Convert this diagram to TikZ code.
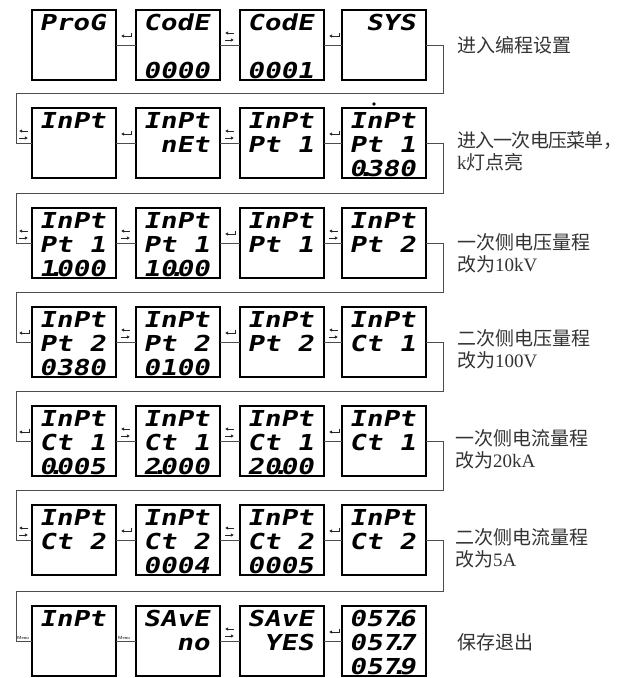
\documentclass[tikz,border=0pt]{standalone}
\usepackage{fontspec}
\setmainfont{Liberation Serif}
\newfontfamily\cjk{Noto Sans CJK SC}
\newfontfamily\segfam{DejaVu Sans Mono}[FakeStretch=1.25,FakeSlant=0.2]
\usetikzlibrary{arrows.meta}
\newcommand\segdot{\makebox[0pt]{.}}
\newcommand\segl[3]{\node[segtxt] (#1-#2) at ([shift={(7,{-4+24*#2})}]#1.north west) {#3};}
\newcommand\enterat[2]{\pic at ({#1+5},{#2-9}) {entericon};}
\newcommand\swapat[2]{\pic at ({#1+5},{#2-5}) {swapicon};}
\tikzset{
  box/.style={draw, line width=1.3pt, minimum width=84pt, minimum height=70pt, inner sep=0pt, outer sep=0pt, anchor=north west},
  conn/.style={line width=0.8pt, draw=black!70},
  segtxt/.style={anchor=base west, inner sep=0pt, font=\segfam\bfseries\fontsize{22}{22}\selectfont},
  lbl/.style={anchor=base west, inner sep=0pt, font=\fontsize{19}{22}\selectfont, text=black!80},
  menulbl/.style={anchor=south west, inner sep=0pt, font=\sffamily\bfseries\fontsize{4.5}{5}\selectfont, text=black!75},
  icon/.style={line width=0.8pt, draw=black!85, -{Latex[length=3.2pt,width=3.6pt]}},
  entericon/.pic={\draw[icon] (10,-3.5) -- (10,0) -- (0,0);},
  swapicon/.pic={\draw[icon] (9,-7) -- (0,-7); \draw[icon] (0,0) -- (9,0);}
}
\begin{document}
\begin{tikzpicture}[x=1pt,y=-1pt]
\useasboundingbox (0,0) rectangle (623,678);
% boxes
\foreach \rw/\ty in {1/10,2/108,3/208,4/307,5/406,6/505,7/606}{
  \node[box] (p\rw a) at (32,\ty) {};
  \node[box] (p\rw b) at (136,\ty) {};
  \node[box] (p\rw c) at (240,\ty) {};
  \node[box] (p\rw d) at (342,\ty) {};
  \draw[conn] (p\rw a.east) -- (p\rw b.west);
  \draw[conn] (p\rw b.east) -- (p\rw c.west);
  \draw[conn] (p\rw c.east) -- (p\rw d.west);
}
% loops
\foreach \rw/\nx/\ly in {1/2/93,2/3/193,3/4/292,4/5/391,5/6/490,6/7/591}{
  \coordinate (kr\rw) at (443,\ly);
  \coordinate (kl\rw) at (16,\ly);
  \draw[conn] (p\rw d.east) -| (kr\rw) -- (kl\rw) |- (p\nx a.west);
}
% row 1
\segl{p1a}{1}{ProG}
\segl{p1b}{1}{CodE}\segl{p1b}{3}{0000}
\segl{p1c}{1}{CodE}\segl{p1c}{3}{0001}
\segl{p1d}{1}{\hphantom{0}SYS}
% row 2
\segl{p2a}{1}{InPt}
\segl{p2b}{1}{InPt}\segl{p2b}{2}{\hphantom{0}nEt}
\segl{p2c}{1}{InPt}\segl{p2c}{2}{Pt\hphantom{0}1}
\segl{p2d}{1}{InPt}\segl{p2d}{2}{Pt\hphantom{0}1}\segl{p2d}{3}{0\segdot380}
\fill[black] (374,104) circle (1.8);
% row 3
\segl{p3a}{1}{InPt}\segl{p3a}{2}{Pt\hphantom{0}1}\segl{p3a}{3}{1\segdot000}
\segl{p3b}{1}{InPt}\segl{p3b}{2}{Pt\hphantom{0}1}\segl{p3b}{3}{10\segdot00}
\segl{p3c}{1}{InPt}\segl{p3c}{2}{Pt\hphantom{0}1}
\segl{p3d}{1}{InPt}\segl{p3d}{2}{Pt\hphantom{0}2}
% row 4
\segl{p4a}{1}{InPt}\segl{p4a}{2}{Pt\hphantom{0}2}\segl{p4a}{3}{0380}
\segl{p4b}{1}{InPt}\segl{p4b}{2}{Pt\hphantom{0}2}\segl{p4b}{3}{0100}
\segl{p4c}{1}{InPt}\segl{p4c}{2}{Pt\hphantom{0}2}
\segl{p4d}{1}{InPt}\segl{p4d}{2}{Ct\hphantom{0}1}
% row 5
\segl{p5a}{1}{InPt}\segl{p5a}{2}{Ct\hphantom{0}1}\segl{p5a}{3}{0\segdot005}
\segl{p5b}{1}{InPt}\segl{p5b}{2}{Ct\hphantom{0}1}\segl{p5b}{3}{2\segdot000}
\segl{p5c}{1}{InPt}\segl{p5c}{2}{Ct\hphantom{0}1}\segl{p5c}{3}{20\segdot00}
\segl{p5d}{1}{InPt}\segl{p5d}{2}{Ct\hphantom{0}1}
% row 6
\segl{p6a}{1}{InPt}\segl{p6a}{2}{Ct\hphantom{0}2}
\segl{p6b}{1}{InPt}\segl{p6b}{2}{Ct\hphantom{0}2}\segl{p6b}{3}{0004}
\segl{p6c}{1}{InPt}\segl{p6c}{2}{Ct\hphantom{0}2}\segl{p6c}{3}{0005}
\segl{p6d}{1}{InPt}\segl{p6d}{2}{Ct\hphantom{0}2}
% row 7
\segl{p7a}{1}{InPt}
\segl{p7b}{1}{SAvE}\segl{p7b}{2}{\hphantom{00}no}
\segl{p7c}{1}{SAvE}\segl{p7c}{2}{\hphantom{0}YES}
\segl{p7d}{1}{057\segdot6}\segl{p7d}{2}{057\segdot7}\segl{p7d}{3}{057\segdot9}
% icons
\enterat{116}{45}\swapat{220}{45}\enterat{324}{45}
\swapat{14}{143}\enterat{116}{143}\swapat{220}{143}\enterat{324}{143}
\swapat{14}{243}\swapat{116}{243}\enterat{220}{243}\swapat{324}{243}
\enterat{14}{342}\swapat{116}{342}\enterat{220}{342}\swapat{324}{342}
\enterat{14}{441}\swapat{116}{441}\swapat{220}{441}\enterat{324}{441}
\swapat{14}{540}\enterat{116}{540}\swapat{220}{540}\enterat{324}{540}
\node[menulbl] (m1) at (17,640) {Menu};
\node[menulbl] (m2) at (118,640) {Menu};
\swapat{220}{641}\enterat{324}{641}
% labels
\node[lbl] (t1) at (457,52) {\cjk 进入编程设置};
\node[lbl] (t2a) at (457,147) {\cjk\addfontfeature{LetterSpace=-4}进入一次电压菜单，};
\node[lbl] (t2b) at (457,169) {k{\cjk 灯点亮}};
\node[lbl] (t3a) at (457,249) {\cjk 一次侧电压量程};
\node[lbl] (t3b) at (457,271) {{\cjk 改为}10kV};
\node[lbl] (t4a) at (457,345) {\cjk 二次侧电压量程};
\node[lbl] (t4b) at (457,367) {{\cjk 改为}100V};
\node[lbl] (t5a) at (455,445) {\cjk 一次侧电流量程};
\node[lbl] (t5b) at (455,467) {{\cjk 改为}20kA};
\node[lbl] (t6a) at (455,544) {\cjk 二次侧电流量程};
\node[lbl] (t6b) at (455,566) {{\cjk 改为}5A};
\node[lbl] (t7) at (457,649) {\cjk 保存退出};
\end{tikzpicture}
\end{document}
